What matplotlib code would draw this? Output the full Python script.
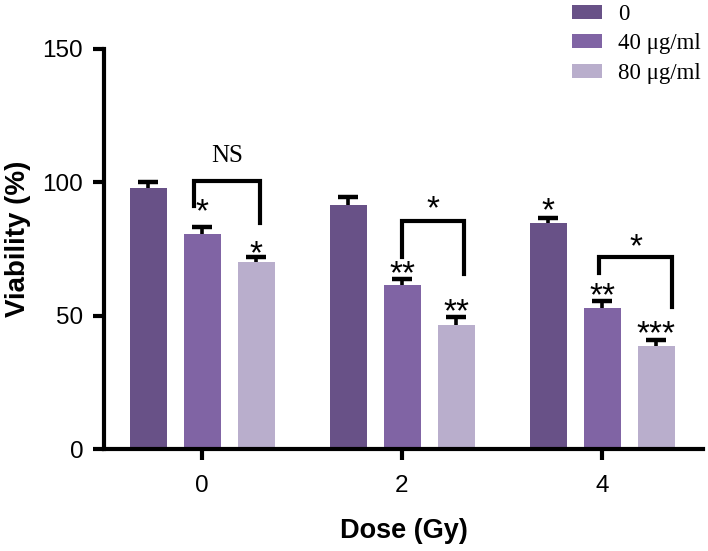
import matplotlib
matplotlib.use("Agg")
import matplotlib.pyplot as plt
import numpy as np

# data
doses = ["0", "2", "4"]
groups = ["0", "40 \u03bcg/ml", "80 \u03bcg/ml"]
viab_0 = [98.0, 91.4, 84.9]
viab_40 = [80.5, 61.4, 52.7]
viab_80 = [70.0, 46.5, 38.5]
err_0 = [2.1, 3.2, 1.7]
err_40 = [2.9, 2.2, 2.8]
err_80 = [1.9, 3.1, 2.4]
colors = ["#685187", "#8064a4", "#b9aecc"]

# significance marks above each bar (text, height of mark centre)
stars_0 = [("", 0), ("", 0), ("*", 91.5)]
stars_40 = [("*", 90.9), ("**", 67.9), ("**", 59.4)]
stars_80 = [("*", 75.4), ("**", 53.6), ("***", 45.4)]

# brackets between 40 and 80 ug/ml bars
br_label = ["NS", "*", "*"]
br_label_y = [110.0, 92.2, 77.7]
br_top = [100.6, 85.5, 71.9]
br_left_end = [91.0, 72.1, 65.9]
br_right_end = [84.7, 65.6, 53.4]
br_left_dx = [-0.04, 0.0, -0.013]
br_right_dx = [0.29, 0.31, 0.35]

plt.rcParams["font.family"] = ["Liberation Sans", "DejaVu Sans"]

fig = plt.figure(figsize=(7.08, 5.51), dpi=100)
ax = fig.add_axes([104 / 708, 102 / 551, 599 / 708, 400 / 551])

x = np.arange(len(doses))
off = 0.27
w = 0.185
series = [viab_0, viab_40, viab_80]
errs = [err_0, err_40, err_80]
handles = []
for i, (vals, e) in enumerate(zip(series, errs)):
    pos = x + (i - 1) * off
    b = ax.bar(pos, vals, width=w, color=colors[i], label=groups[i], zorder=2)
    handles.append(b)
    # drawn under the bars so only the upper half shows
    ax.errorbar(pos, vals, yerr=e, fmt="none", ecolor="black",
                elinewidth=2.6, capsize=7, capthick=3.2, zorder=1.5)

star_kw = dict(ha="center", va="baseline", fontsize=24, zorder=4)
star_dy = 5.6  # baseline sits below the asterisk centre

for i, marks in enumerate([stars_0, stars_40, stars_80]):
    for j, (s, yv) in enumerate(marks):
        if s:
            ax.text(x[j] + (i - 1) * off, yv - star_dy, s, **star_kw)

for j in range(len(doses)):
    xl = x[j] + br_left_dx[j]
    xr = x[j] + br_right_dx[j]
    ax.plot([xl, xl, xr, xr], [br_left_end[j], br_top[j], br_top[j], br_right_end[j]],
            color="black", lw=3.0, solid_joinstyle="miter", zorder=4)
    cx = (xl + xr) / 2
    if br_label[j] == "NS":
        ax.text(cx, br_label_y[j], "NS", ha="center", va="center", fontsize=18,
                family=["Liberation Serif", "DejaVu Serif"])
    else:
        ax.text(cx, br_label_y[j] - star_dy, br_label[j], **star_kw)

ax.set_xlim(-0.49, 2.505)
ax.set_ylim(0, 150)
ax.set_yticks([0, 50, 100, 150])
ax.set_xticks(x)
ax.set_xticklabels(doses)
for side in ["top", "right"]:
    ax.spines[side].set_visible(False)
for side in ["left", "bottom"]:
    ax.spines[side].set_linewidth(3.0)
ax.tick_params(axis="both", width=3.0, length=8, labelsize=17.5)
ax.tick_params(axis="y", pad=7)
ax.tick_params(axis="x", pad=11)

ax.set_xlabel("Dose (Gy)", fontsize=19.5, fontweight="bold", labelpad=15)
ax.set_ylabel("Viability (%)", fontsize=20, fontweight="bold")
ax.yaxis.set_label_coords(-0.122, 0.526)

fig.legend(handles=handles, labels=groups, loc="upper left",
           bbox_to_anchor=(572 / 708, 1.0 - 4 / 551), frameon=False,
           prop={"family": ["Liberation Serif", "DejaVu Serif"], "size": 16.5},
           handlelength=1.31, handleheight=0.57, handletextpad=0.7,
           labelspacing=0.37, borderpad=0.0, borderaxespad=0.0)

fig.savefig("out.png", dpi=100)
